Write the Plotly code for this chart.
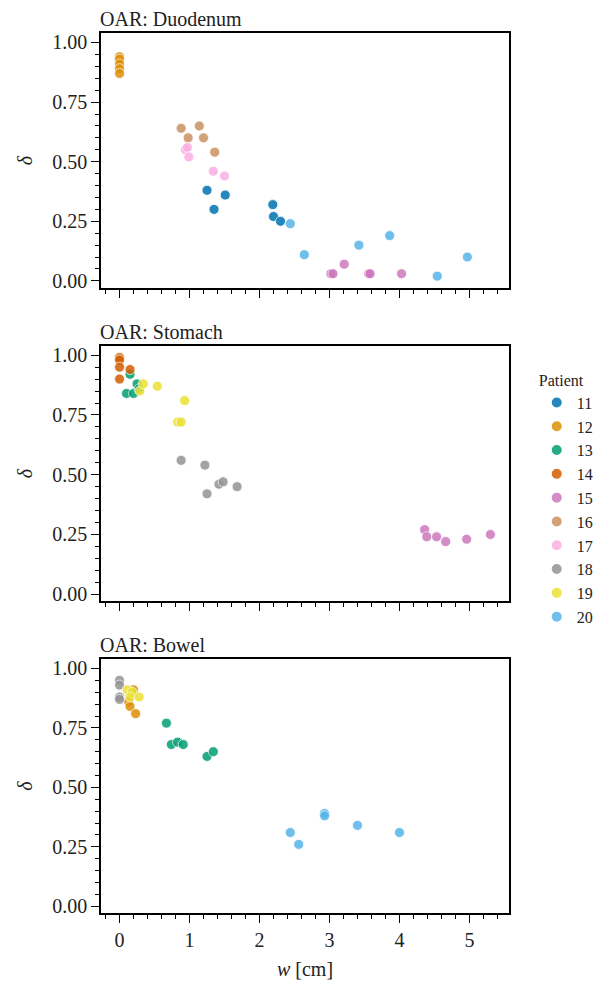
import plotly.graph_objects as go

# ---------------- data (long form, one list set per OAR panel) ----------------
patients = [11, 12, 13, 14, 15, 16, 17, 18, 19, 20]
colors = ["#0173b2", "#de8f05", "#029e73", "#d55e00", "#cc78bc",
          "#ca9161", "#fbafe4", "#949494", "#ece133", "#56b4e9"]
oar_names = ["Duodenum", "Stomach", "Bowel"]

duo_patient = [12, 12, 12, 12, 12,
               16, 16, 16, 16, 16,
               17, 17, 17, 17, 17,
               11, 11, 11, 11, 11, 11,
               20, 20, 20, 20, 20, 20,
               15, 15, 15, 15, 15, 15]
duo_w = [0.0, 0.0, 0.0, 0.0, 0.0,
         0.88, 1.14, 0.98, 1.20, 1.36,
         0.94, 0.97, 0.99, 1.34, 1.50,
         1.25, 1.51, 1.35, 2.19, 2.20, 2.30,
         2.44, 2.64, 3.42, 3.86, 4.54, 4.97,
         3.02, 3.05, 3.21, 3.56, 3.58, 4.03]
duo_delta = [0.94, 0.93, 0.91, 0.89, 0.87,
             0.64, 0.65, 0.60, 0.60, 0.54,
             0.55, 0.56, 0.52, 0.46, 0.44,
             0.38, 0.36, 0.30, 0.32, 0.27, 0.25,
             0.24, 0.11, 0.15, 0.19, 0.02, 0.10,
             0.03, 0.03, 0.07, 0.03, 0.03, 0.03]

sto_patient = [14, 14, 14, 14, 14,
               13, 13, 13, 13, 13,
               19, 19, 19, 19, 19, 19,
               18, 18, 18, 18, 18, 18,
               15, 15, 15, 15, 15, 15]
sto_w = [0.0, 0.0, 0.0, 0.15, 0.0,
         0.15, 0.25, 0.10, 0.20, 0.28,
         0.29, 0.34, 0.54, 0.93, 0.83, 0.88,
         0.88, 1.22, 1.25, 1.42, 1.48, 1.68,
         4.36, 4.39, 4.53, 4.66, 4.96, 5.30]
sto_delta = [0.99, 0.98, 0.95, 0.94, 0.90,
             0.92, 0.88, 0.84, 0.84, 0.86,
             0.85, 0.88, 0.87, 0.81, 0.72, 0.72,
             0.56, 0.54, 0.42, 0.46, 0.47, 0.45,
             0.27, 0.24, 0.24, 0.22, 0.23, 0.25]

bow_patient = [18, 18, 18, 18,
               12, 12, 12, 12,
               19, 19, 19, 19,
               13, 13, 13, 13, 13, 13,
               20, 20, 20, 20, 20, 20]
bow_w = [0.0, 0.0, 0.0, 0.0,
         0.20, 0.13, 0.15, 0.23,
         0.11, 0.18, 0.15, 0.28,
         0.67, 0.74, 0.83, 0.91, 1.25, 1.34,
         2.44, 2.56, 2.93, 2.93, 3.40, 4.00]
bow_delta = [0.95, 0.93, 0.88, 0.87,
             0.91, 0.86, 0.84, 0.81,
             0.91, 0.90, 0.88, 0.88,
             0.77, 0.68, 0.69, 0.68, 0.63, 0.65,
             0.31, 0.26, 0.39, 0.38, 0.34, 0.31]

x_ticks = [0, 1, 2, 3, 4, 5]
y_ticks = [0.0, 0.25, 0.5, 0.75, 1.0]

# ---------------- figure ----------------
panels = [(duo_patient, duo_w, duo_delta),
          (sto_patient, sto_w, sto_delta),
          (bow_patient, bow_w, bow_delta)]

W, H = 595, 990
mt, mb, ml, mr = 33, 77, 101, 86
ph = H - mt - mb
# panel pixel extents (top, bottom) measured from top of page
panel_px = [(33.3, 287.7), (346.0, 601.0), (659.3, 913.3)]
domains = [[(H - mb - b) / ph, (H - mb - t) / ph] for t, b in panel_px]
domains = [[max(0, d0), min(1, d1)] for d0, d1 in domains]

FONT = "Liberation Serif"
fig = go.Figure()

for pat, col in zip(patients, colors):
    first = True
    for k, (pp, ww, dd) in enumerate(panels):
        xs = [w for p, w in zip(pp, ww) if p == pat]
        ys = [d for p, d in zip(pp, dd) if p == pat]
        if not xs:
            continue
        fig.add_trace(go.Scatter(
            x=xs, y=ys, mode="markers",
            name=str(pat), legendgroup=str(pat), showlegend=first,
            marker=dict(size=10, color=col, opacity=0.85,
                        line=dict(color="white", width=0.8)),
            xaxis="x" if k == 0 else f"x{k+1}",
            yaxis="y" if k == 0 else f"y{k+1}",
        ))
        first = False

axis_common = dict(
    showline=True, linecolor="black", linewidth=1.6, mirror=True,
    ticks="outside", ticklen=8, tickwidth=1.4, tickcolor="black",
    showgrid=False, zeroline=False,
    tickfont=dict(family=FONT, size=20, color="#222"),
)

layout = dict(
    width=W, height=H,
    margin=dict(l=ml, r=mr, t=mt, b=mb, autoexpand=False),
    plot_bgcolor="white", paper_bgcolor="white",
    font=dict(family=FONT, size=20, color="#222"),
    legend=dict(
        title=dict(text="Patient", font=dict(family=FONT, size=16), side="top"),
        font=dict(family=FONT, size=16),
        x=1.068, xanchor="left", y=0.623, yanchor="top",
        tracegroupgap=0, itemsizing="constant", bgcolor="rgba(0,0,0,0)",
    ),
)

for k in range(3):
    xa = "xaxis" if k == 0 else f"xaxis{k+1}"
    ya = "yaxis" if k == 0 else f"yaxis{k+1}"
    xref = "x" if k == 0 else f"x{k+1}"
    yref = "y" if k == 0 else f"y{k+1}"
    layout[xa] = dict(
        axis_common, domain=[0, 1], anchor=yref, range=[-0.265, 5.565],
        tickvals=x_ticks, showticklabels=(k == 2),
        minor=dict(dtick=0.2, tick0=0, ticks="outside", ticklen=4.5,
                   tickwidth=1.2, tickcolor="black"),
    )
    if k == 2:
        layout[xa]["title"] = dict(text="<i>w</i> [cm]",
                                   font=dict(family=FONT, size=20), standoff=12)
    layout[ya] = dict(
        axis_common, domain=domains[k], anchor=xref, range=[-0.0285, 1.0385],
        tickvals=y_ticks, tickformat=".2f",
        minor=dict(dtick=0.05, tick0=0, ticks="outside", ticklen=4.5,
                   tickwidth=1.2, tickcolor="black"),
        title=dict(text="<i>δ</i>", font=dict(family=FONT, size=20), standoff=14),
    )

fig.update_layout(**layout)

for k, name in enumerate(oar_names):
    xref = "x domain" if k == 0 else f"x{k+1} domain"
    yref = "y domain" if k == 0 else f"y{k+1} domain"
    fig.add_annotation(text=f"OAR: {name}", xref=xref, yref=yref,
                       x=0, y=1, xanchor="left", yanchor="bottom",
                       yshift=1, xshift=-3, showarrow=False,
                       font=dict(family=FONT, size=20, color="#222"))

fig.write_html("out.html")
